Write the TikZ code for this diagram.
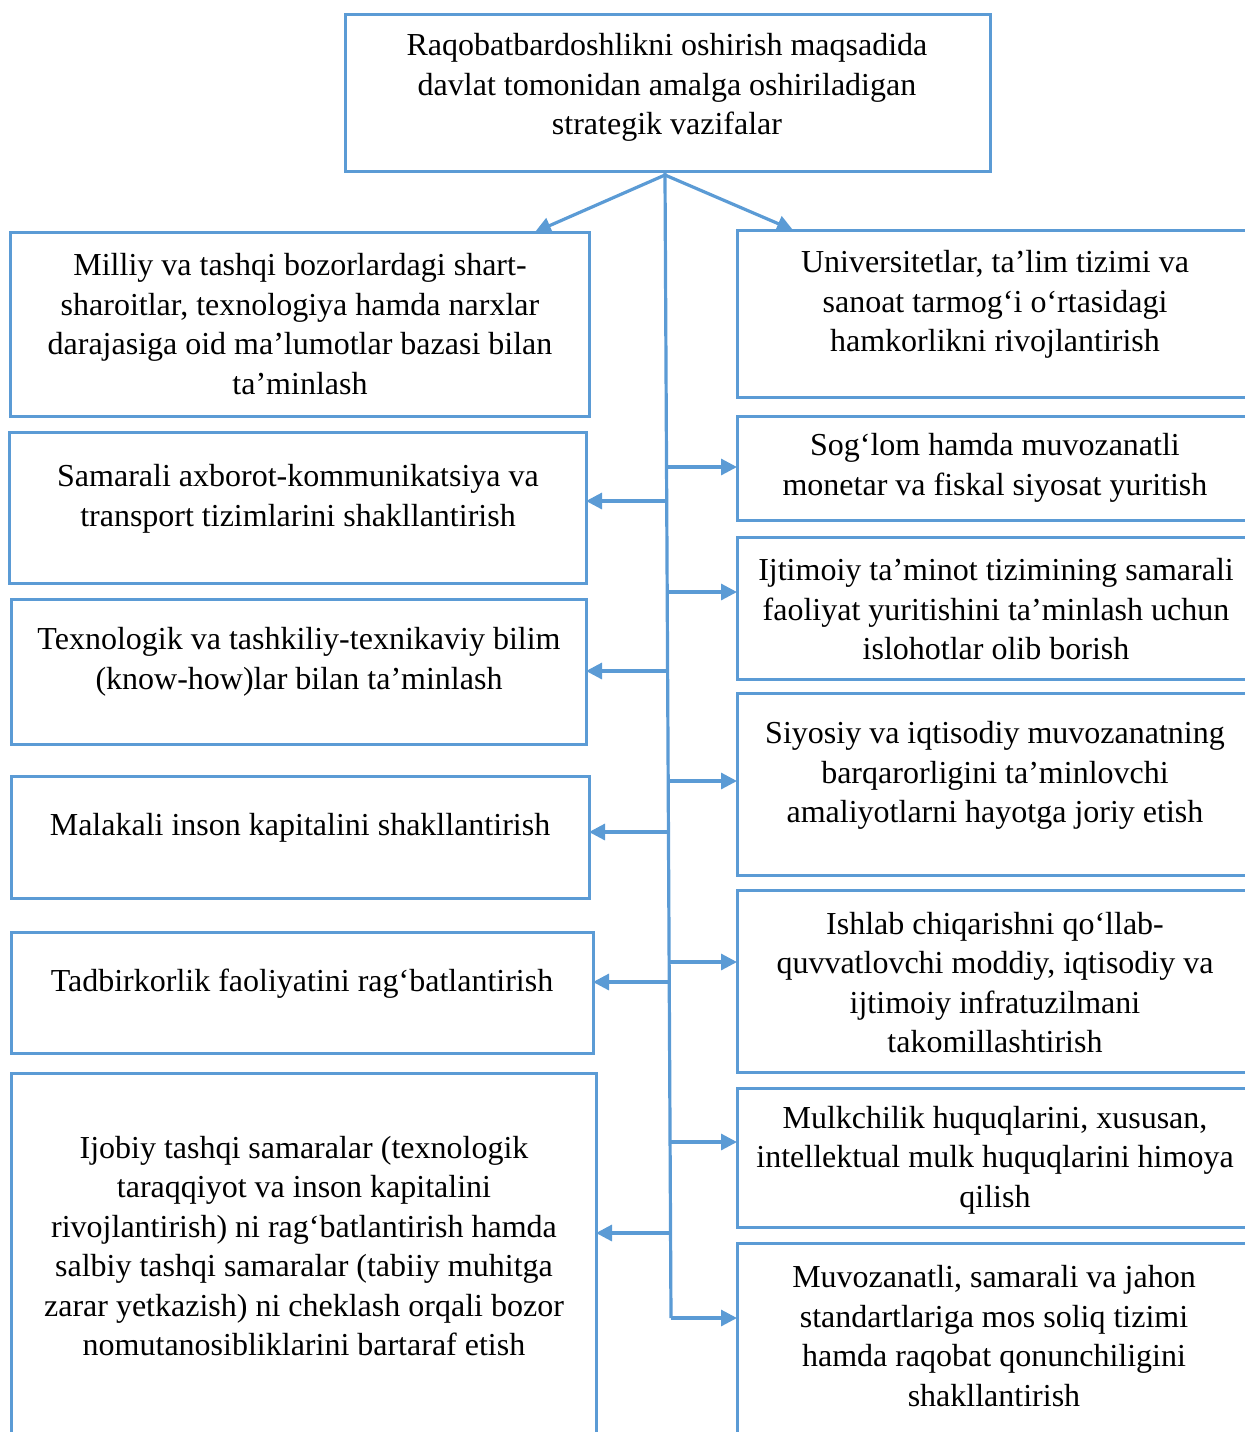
\documentclass[tikz,border=0pt]{standalone}
\usepackage{fontspec}
\setmainfont{Liberation Serif}
\usetikzlibrary{arrows.meta}
\definecolor{bl}{HTML}{5B9BD5}
\begin{document}
\begin{tikzpicture}[x=0.5pt,y=-0.5pt,
  box/.style={draw=bl,line width=1.5pt,inner sep=0pt,outer sep=0pt,anchor=north west},
  txt/.style={align=center,inner sep=0pt,yshift=-1pt,font=\fontsize{16}{19.75}\selectfont},
  ln/.style={draw=bl,line width=1.6pt},
  arr/.style={draw=bl,line width=1.6pt,-{Triangle[length=8pt,width=8pt]}}]
\useasboundingbox (0,0) rectangle (1245,1432);
\clip (0,0) rectangle (1245,1432);
% top
\node[box,minimum width=322.5pt,minimum height=78.5pt] (T) at (345,14) {};
\node[txt] (Tt) at (667,85.5) {Raqobatbardoshlikni oshirish maqsadida\\davlat tomonidan amalga oshiriladigan\\strategik vazifalar};
% left boxes
\node[box,minimum width=289.5pt,minimum height=92pt] (L1) at (10,232) {};
\node[txt] (L1t) at (300,322) {Milliy va tashqi bozorlardagi shart-\\sharoitlar, texnologiya hamda narxlar\\darajasiga oid ma’lumotlar bazasi bilan\\ta’minlash};
\node[box,minimum width=288.5pt,minimum height=75.5pt] (L2) at (9,432) {};
\node[txt] (L2t) at (298,497) {Samarali axborot-kommunikatsiya va\\transport tizimlarini shakllantirish};
\node[box,minimum width=287.5pt,minimum height=72.5pt] (L3) at (11,599) {};
\node[txt] (L3t) at (299,660) {Texnologik va tashkiliy-texnikaviy bilim\\(know-how)lar bilan ta’minlash};
\node[box,minimum width=289pt,minimum height=61pt] (L4) at (11,776) {};
\node[txt] (L4t) at (300,826) {Malakali inson kapitalini shakllantirish};
\node[box,minimum width=291pt,minimum height=60.5pt] (L5) at (11,932) {};
\node[txt] (L5t) at (302,982) {Tadbirkorlik faoliyatini rag‘batlantirish};
\node[box,minimum width=292.5pt,minimum height=200pt] (L6) at (11,1073) {};
\node[txt] (L6t) at (304,1244) {Ijobiy tashqi samaralar (texnologik\\taraqqiyot va inson kapitalini\\rivojlantirish) ni rag‘batlantirish hamda\\salbiy tashqi samaralar (tabiiy muhitga\\zarar yetkazish) ni cheklash orqali bozor\\nomutanosibliklarini bartaraf etish};
% right boxes
\node[box,minimum width=258pt,minimum height=83.5pt] (R1) at (737,230) {};
\node[txt] (R1t) at (995,302.5) {Universitetlar, ta’lim tizimi va\\sanoat tarmog‘i o‘rtasidagi\\hamkorlikni rivojlantirish};
\node[box,minimum width=258pt,minimum height=52pt] (R2) at (737,416) {};
\node[txt] (R2t) at (995,466) {Sog‘lom hamda muvozanatli\\monetar va fiskal siyosat yuritish};
\node[box,minimum width=258pt,minimum height=71pt] (R3) at (737,537) {};
\node[txt] (R3t) at (996,607.5) {Ijtimoiy ta’minot tizimining samarali\\faoliyat yuritishini ta’minlash uchun\\islohotlar olib borish};
\node[box,minimum width=258pt,minimum height=91pt] (R4) at (737,693) {};
\node[txt] (R4t) at (995,773.5) {Siyosiy va iqtisodiy muvozanatning\\barqarorligini ta’minlovchi\\amaliyotlarni hayotga joriy etish};
\node[box,minimum width=258pt,minimum height=91pt] (R5) at (737,890) {};
\node[txt] (R5t) at (995,980.5) {Ishlab chiqarishni qo‘llab-\\quvvatlovchi moddiy, iqtisodiy va\\ijtimoiy infratuzilmani\\takomillashtirish};
\node[box,minimum width=258pt,minimum height=69.5pt] (R6) at (737,1088) {};
\node[txt] (R6t) at (995,1158) {Mulkchilik huquqlarini, xususan,\\intellektual mulk huquqlarini himoya\\qilish};
\node[box,minimum width=258pt,minimum height=150pt] (R7) at (737,1243) {};
\node[txt] (R7t) at (994,1334) {Muvozanatli, samarali va jahon\\standartlariga mos soliq tizimi\\hamda raqobat qonunchiligini\\shakllantirish};
% trunk
\coordinate (tp) at (665,175);
\coordinate (tb) at (671,1318);
\draw[ln] (T.south -| tp) -- (tp) -- (tb);
\draw[arr] (tp) -- (L1.north -| 535,0);
\draw[arr] (tp) -- (R1.north -| 793,0);
\coordinate (c2) at (666.5,467);
\coordinate (c3) at (666.7,501);
\coordinate (c4) at (667.2,592);
\coordinate (c5) at (667.6,671);
\coordinate (c6) at (668.2,781);
\coordinate (c7) at (668.4,832);
\coordinate (c8) at (669.1,962);
\coordinate (c9) at (669.2,982);
\coordinate (c10) at (670.1,1142);
\coordinate (c11) at (670.6,1233);
\draw[arr] (c2) -- (R2.west |- c2);
\draw[arr] (c3) -- (L2.east |- c3);
\draw[arr] (c4) -- (R3.west |- c4);
\draw[arr] (c5) -- (L3.east |- c5);
\draw[arr] (c6) -- (R4.west |- c6);
\draw[arr] (c7) -- (L4.east |- c7);
\draw[arr] (c8) -- (R5.west |- c8);
\draw[arr] (c9) -- (L5.east |- c9);
\draw[arr] (c10) -- (R6.west |- c10);
\draw[arr] (c11) -- (L6.east |- c11);
\draw[arr] (tb) -- (R7.west |- tb);
\end{tikzpicture}
\end{document}
